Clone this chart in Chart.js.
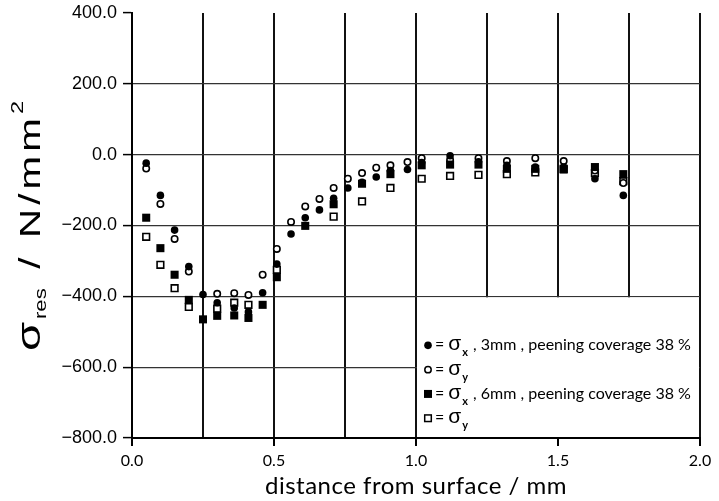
<!DOCTYPE html>
<html>
<head>
<meta charset="utf-8">
<script src="https://cdn.jsdelivr.net/npm/chart.js@4.4.1/dist/chart.umd.min.js"></script>
<style>
  body { margin: 0; background: #fff; }
  #contenedor { width: 719px; height: 501px; }
</style>
</head>
<body>
<div id="contenedor"><canvas id="graficoTensiones"></canvas></div>
<script>
// Profundidad de medida (mm)
const profundidad = [0.05, 0.10, 0.15, 0.20, 0.25, 0.30, 0.36, 0.41, 0.46, 0.51, 0.56, 0.61, 0.66, 0.71,
  0.76, 0.81, 0.86, 0.91, 0.97, 1.02, 1.12, 1.22, 1.32, 1.42, 1.52, 1.63, 1.73];

// Tensiones residuales (N/mm2); null = sin medida
const sigmaX3mm = [-24, -115, -213, -316, -395, -418, -433, -444, -390, -309, -224, -178, -156, -123,
  -94, -78, -63, -45, -42, -22, -3, -20, -30, -35, -35, -68, -115];
const sigmaY3mm = [-39, -139, -238, -330, null, -393, -391, -396, -339, -266, -190, -146, -125, -94,
  -68, -52, -37, -30, -21, -10, -15, -10, -18, -10, -18, -45, -80];
const sigmaX6mm = [-178, -264, -339, -410, -465, -455, -454, -461, -424, -346, null, -201, null, -140,
  null, -82, null, -55, null, -30, -28, -28, -40, -40, -42, -35, -55];
const sigmaY6mm = [-232, -311, -377, -430, null, -435, -418, -424, null, -325, null, null, null, -175,
  null, -132, null, -94, null, -68, -60, -57, -55, -50, -40, -52, -75];

// Etiquetas de los ejes
const valoresX = [0, 0.5, 1.0, 1.5, 2.0];
const etiquetasX = ["0.0", "0.5", "1.0", "1.5", "2.0"];
const valoresY = [400, 200, 0, -200, -400, -600, -800];
const etiquetasY = ["400.0", "200.0", "0.0", "\u2212200.0", "\u2212400.0", "\u2212600.0", "\u2212800.0"];

function puntos(valores) {
  return profundidad
    .map((d, i) => ({ x: d, y: valores[i] }))
    .filter((p) => p.y !== null);
}

const fuenteGotica = "Lato, 'DejaVu Sans', sans-serif";
const fuenteHelv = "'Liberation Sans', Arial, sans-serif";

// Dibuja un texto por trozos (con subindices / superindices)
function textoCompuesto(ctx, x, y, trozos) {
  let pos = x;
  trozos.forEach((t) => {
    ctx.font = t.fuente;
    ctx.letterSpacing = t.espacio || "0px";
    ctx.fillText(t.txt, pos, y + (t.dy || 0));
    pos += ctx.measureText(t.txt).width + (t.extra || 0);
  });
  ctx.letterSpacing = "0px";
  return pos;
}

function anchoCompuesto(ctx, trozos) {
  let w = 0;
  trozos.forEach((t) => {
    ctx.font = t.fuente;
    ctx.letterSpacing = t.espacio || "0px";
    w += ctx.measureText(t.txt).width + (t.extra || 0);
  });
  ctx.letterSpacing = "0px";
  return w;
}

function marcador(ctx, tipo, x, y) {
  ctx.save();
  ctx.fillStyle = "#000";
  ctx.strokeStyle = "#000";
  ctx.lineWidth = 1.5;
  if (tipo === "circuloLleno") {
    ctx.beginPath(); ctx.arc(x, y, 3.8, 0, Math.PI * 2); ctx.fill();
  } else if (tipo === "circuloVacio") {
    ctx.beginPath(); ctx.arc(x, y, 3.2, 0, Math.PI * 2); ctx.fillStyle = "#fff"; ctx.fill(); ctx.stroke();
  } else if (tipo === "cuadradoLleno") {
    ctx.fillRect(x - 4, y - 4, 8, 8);
  } else {
    ctx.fillStyle = "#fff";
    ctx.fillRect(x - 3.3, y - 3.3, 6.6, 6.6);
    ctx.strokeRect(x - 3.3, y - 3.3, 6.6, 6.6);
  }
  ctx.restore();
}

const extras = {
  id: "extras",
  beforeDatasetsDraw(chart) {
    // caja blanca de la leyenda, tapa la reticula de abajo a la derecha
    const { ctx, scales: { x, y } } = chart;
    const x0 = x.getPixelForValue(1.0), x1 = x.getPixelForValue(2.0);
    const y0 = y.getPixelForValue(-400), y1 = y.getPixelForValue(-800);
    ctx.save();
    ctx.fillStyle = "#fff";
    ctx.fillRect(x0 + 1, y0 + 1, x1 - x0 - 2, y1 - y0 - 2);
    ctx.restore();
  },
  afterDraw(chart) {
    const { ctx, scales: { x, y } } = chart;
    const izq = x.getPixelForValue(1.0);
    const arriba = y.getPixelForValue(-400);
    ctx.save();
    ctx.fillStyle = "#000";
    ctx.textBaseline = "alphabetic";

    // leyenda
    const letra = "16px " + fuenteGotica;
    const sigma = "21px " + fuenteHelv;
    const sub = "bold 11px " + fuenteGotica;
    const filas = [
      { tipo: "circuloLleno", sub: "x", resto: " , 3mm , peening coverage 38 %" },
      { tipo: "circuloVacio", sub: "y", resto: "" },
      { tipo: "cuadradoLleno", sub: "x", resto: " , 6mm , peening coverage 38 %" },
      { tipo: "cuadradoVacio", sub: "y", resto: "" }
    ];
    filas.forEach((f, i) => {
      const yc = arriba + 49 + i * 24.3;
      marcador(ctx, f.tipo, izq + 12, yc);
      textoCompuesto(ctx, izq + 19, yc + 5, [
        { txt: "=", fuente: letra, extra: 4 },
        { txt: "\u03C3", fuente: sigma, extra: 1 },
        { txt: f.sub, fuente: sub, dy: 6, extra: 1 },
        { txt: f.resto, fuente: letra }
      ]);
    });

    // titulo del eje x
    ctx.font = "24px " + fuenteGotica;
    ctx.letterSpacing = "0.5px";
    ctx.textAlign = "center";
    ctx.fillText("distance from surface / mm", 416, 494);
    ctx.letterSpacing = "0px";

    // titulo del eje y (girado, letras espaciadas)
    ctx.textAlign = "left";
    ctx.translate(40, 226);
    ctx.rotate(-Math.PI / 2);
    const trozosY = [
      { txt: "\u03C3", fuente: "34px " + fuenteHelv, extra: 2 },
      { txt: "res", fuente: "16px " + fuenteHelv, dy: 6, extra: 3 },
      { txt: " / N/mm", fuente: "29px " + fuenteHelv, espacio: "3px" },
      { txt: "2", fuente: "17px " + fuenteHelv, dy: -17 }
    ];
    const ancho = anchoCompuesto(ctx, trozosY);
    const estirar = 250 / ancho;
    ctx.scale(estirar, 1);
    textoCompuesto(ctx, -ancho / 2, 0, trozosY);
    ctx.restore();
  }
};

const ctx = document.getElementById("graficoTensiones").getContext("2d");
const grafico = new Chart(ctx, {
  type: "scatter",
  data: {
    datasets: [
      {
        label: "sigma x, 3mm",
        data: puntos(sigmaX3mm),
        pointStyle: "circle",
        pointRadius: 3.8,
        backgroundColor: "#000",
        borderColor: "#000",
        borderWidth: 0
      },
      {
        label: "sigma x, 6mm",
        data: puntos(sigmaX6mm),
        pointStyle: "rect",
        pointRadius: 5.7,
        backgroundColor: "#000",
        borderColor: "#000",
        borderWidth: 0
      },
      {
        label: "sigma y, 3mm",
        data: puntos(sigmaY3mm),
        pointStyle: "circle",
        pointRadius: 3.2,
        backgroundColor: "#fff",
        borderColor: "#000",
        borderWidth: 1.6
      },
      {
        label: "sigma y, 6mm",
        data: puntos(sigmaY6mm),
        pointStyle: "rect",
        pointRadius: 4.7,
        backgroundColor: "#fff",
        borderColor: "#000",
        borderWidth: 1.6
      }
    ]
  },
  options: {
    responsive: true,
    maintainAspectRatio: false,
    animation: false,
    layout: { padding: { top: 13, right: 19, left: 0, bottom: 0 } },
    plugins: {
      legend: { display: false },
      tooltip: { enabled: false }
    },
    scales: {
      x: {
        type: "linear",
        min: 0,
        max: 2.0,
        afterFit: (escala) => { escala.height = 63; },
        border: { display: true, color: "#000", width: 2 },
        grid: {
          color: (c) => (c.tick && c.tick.value > 0 ? "#111" : "rgba(0,0,0,0)"),
          lineWidth: 2,
          drawTicks: true,
          tickLength: 8,
          tickWidth: 2,
          tickColor: (c) => (c.tick && valoresX.includes(Math.round(c.tick.value * 100) / 100) ? "#000" : "rgba(0,0,0,0)")
        },
        ticks: {
          stepSize: 0.25,
          autoSkip: false,
          maxRotation: 0,
          padding: 5,
          color: "#000",
          font: { family: fuenteGotica, size: 16 },
          callback: (v) => {
            const i = valoresX.indexOf(Math.round(v * 100) / 100);
            return i >= 0 ? etiquetasX[i] : "";
          }
        }
      },
      y: {
        type: "linear",
        min: -800,
        max: 400,
        afterFit: (escala) => {
          escala.width = 132;
          escala.paddingTop = 0;
          escala.paddingBottom = 0;
        },
        border: { display: true, color: "#000", width: 2 },
        grid: {
          color: (c) => (c.tick && c.tick.value < 400 && c.tick.value > -800 ? "#333" : "rgba(0,0,0,0)"),
          lineWidth: 1.2,
          tickLength: 9,
          tickWidth: 1.5,
          tickColor: "#000"
        },
        ticks: {
          stepSize: 200,
          autoSkip: false,
          padding: 6,
          color: "#000",
          font: { family: fuenteHelv, size: 18 },
          callback: (v) => {
            const i = valoresY.indexOf(v);
            return i >= 0 ? etiquetasY[i] : "";
          }
        }
      }
    }
  },
  plugins: [extras]
});
</script>
</body>
</html>
